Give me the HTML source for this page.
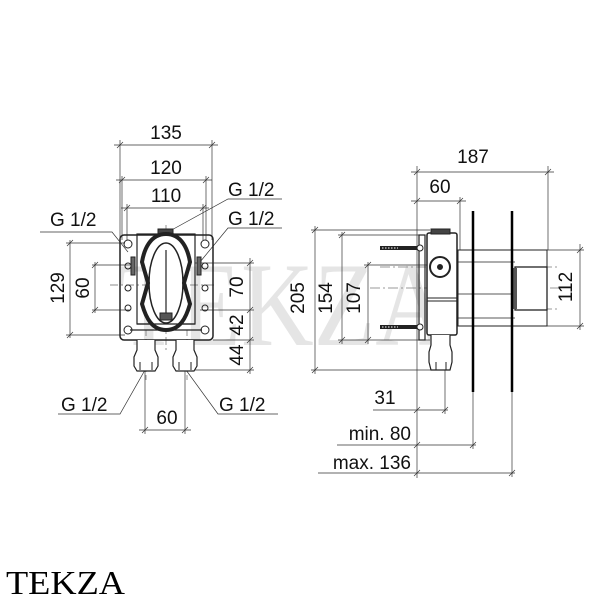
<!DOCTYPE html>
<html><head><meta charset="utf-8"><style>
html,body{margin:0;padding:0;background:#fff;}
svg{display:block;}
text{font-family:"Liberation Sans",sans-serif;fill:#111;}
</style></head><body>
<svg width="600" height="600" viewBox="0 0 600 600" xmlns="http://www.w3.org/2000/svg">
<!-- watermark -->
<text x="118" y="345" font-size="120" fill="#000" opacity="0.1" style="font-family:'Liberation Serif',serif" textLength="330" lengthAdjust="spacingAndGlyphs">TEKZA</text>

<g stroke="#333" stroke-width="0.7" fill="none">
<line x1="114" y1="145" x2="218" y2="145"/>
<line x1="116" y1="180" x2="212" y2="180"/>
<line x1="121" y1="208" x2="209" y2="208"/>
<line x1="120" y1="140" x2="120" y2="240"/>
<line x1="212" y1="140" x2="212" y2="240"/>
<line x1="122" y1="176" x2="122" y2="240"/>
<line x1="206" y1="176" x2="206" y2="240"/>
<line x1="127" y1="204" x2="127" y2="240"/>
<line x1="203" y1="204" x2="203" y2="240"/>
<path d="M117 148L123 142M209 148L215 142M119 183L125 177M203 183L209 177M124 211L130 205M200 211L206 205"/>
<path d="M40 232H112L128 252"/>
<path d="M282 199H228L168 232"/>
<path d="M282 228H228L200 262"/>
<path d="M58 414H120L145 370"/>
<path d="M278 414H218L186 370"/>
<line x1="145" y1="370" x2="145" y2="434"/>
<line x1="185" y1="370" x2="185" y2="434"/>
<line x1="139" y1="430" x2="191" y2="430"/>
<path d="M142 433L148 427M182 433L188 427"/>
<line x1="70" y1="240" x2="70" y2="338"/>
<line x1="95" y1="262" x2="95" y2="313"/>
<path d="M66 243H125M66 335H125M92 265H130M92 310H130"/>
<path d="M67 246L73 240M67 338L73 332M92 268L98 262M92 313L98 307"/>
<line x1="250" y1="258" x2="250" y2="374"/>
<path d="M195 263H254M200 310H254M213 340H254M195 370H254"/>
<path d="M247 266L253 260M247 313L253 307M247 343L253 337M247 373L253 367"/>
<path d="M166 225V350M110 285H215" stroke-dasharray="8 3 2 3" stroke="#666"/>
<path d="M146 330V380M187 330V380" stroke-dasharray="6 3" stroke="#666"/>
</g>

<g stroke="#222" fill="none">
<rect x="120" y="235" width="93" height="105" rx="4" stroke-width="1.5"/>
<rect x="137" y="234" width="58" height="90" stroke-width="1.2"/>
<rect x="158" y="229" width="15" height="6" fill="#444"/>
<rect x="131" y="257" width="4" height="18" fill="#666"/>
<rect x="197" y="257" width="4" height="18" fill="#666"/>
<path d="M166 234C150 234 144 250 142 262L148 283L142 304C146 318 152 330 166 330C180 330 186 318 190 304L184 283L190 262C188 250 182 234 166 234Z" stroke-width="4" fill="#fff"/>
<ellipse cx="166" cy="283" rx="17" ry="40" stroke-width="1.5"/>
<line x1="166" y1="250" x2="166" y2="318" stroke-width="1.2"/>
<rect x="160" y="313" width="12" height="7" fill="#555"/>
<path d="M137 324H195M130 330H202" stroke-width="1.2"/>
<g stroke-width="1">
<circle cx="128" cy="244" r="4"/><circle cx="205" cy="244" r="4"/>
<circle cx="128" cy="330" r="4"/><circle cx="205" cy="330" r="4"/>
<circle cx="128" cy="266" r="3"/><circle cx="128" cy="288" r="3"/><circle cx="128" cy="308" r="3"/>
<circle cx="205" cy="266" r="3"/><circle cx="205" cy="288" r="3"/><circle cx="205" cy="308" r="3"/>
</g>
<path d="M137 340V350L134 357V366L137 371H155L158 366V357L155 350V340" stroke-width="1.2" fill="#fff"/>
<path d="M176 340V350L173 357V366L176 371H194L197 366V357L194 350V340" stroke-width="1.2" fill="#fff"/>
<path d="M140 362V370M152 362V370M179 362V370M191 362V370" stroke-width="1"/>
</g>

<g font-size="19">
<text x="166" y="139" text-anchor="middle">135</text>
<text x="166" y="174" text-anchor="middle">120</text>
<text x="166" y="202" text-anchor="middle">110</text>
<text x="50" y="226">G 1/2</text>
<text x="228" y="196">G 1/2</text>
<text x="228" y="225">G 1/2</text>
<text x="61" y="411">G 1/2</text>
<text x="219" y="411">G 1/2</text>
<text x="167" y="424" text-anchor="middle">60</text>
<text transform="translate(64,288) rotate(-90)" text-anchor="middle">129</text>
<text transform="translate(89,288) rotate(-90)" text-anchor="middle">60</text>
<text transform="translate(243,287) rotate(-90)" text-anchor="middle">70</text>
<text transform="translate(243,325) rotate(-90)" text-anchor="middle">42</text>
<text transform="translate(243,355) rotate(-90)" text-anchor="middle">44</text>
</g>

<g stroke="#333" stroke-width="0.7" fill="none">
<line x1="411" y1="172" x2="554" y2="172"/>
<line x1="411" y1="201" x2="466" y2="201"/>
<line x1="417" y1="166" x2="417" y2="478"/>
<line x1="548" y1="166" x2="548" y2="250"/>
<line x1="460" y1="197" x2="460" y2="250"/>
<path d="M414 175L420 169M545 175L551 169M414 204L420 198M457 204L463 198"/>
<line x1="315" y1="226" x2="315" y2="374"/>
<line x1="342" y1="232" x2="342" y2="344"/>
<line x1="368" y1="262" x2="368" y2="344"/>
<path d="M311 230H430M338 235H420M364 265H440M338 340H430M311 370H432"/>
<path d="M312 233L318 227M312 373L318 367M339 238L345 232M339 343L345 337M365 268L371 262M365 343L371 337"/>
<line x1="580" y1="244" x2="580" y2="330"/>
<path d="M547 250H584M547 326H584M577 253L583 247M577 329L583 323"/>
<line x1="445" y1="335" x2="445" y2="414"/>
<path d="M373 410H448M337 445H476M318 473H515"/>
<path d="M414 413L420 407M442 413L448 407M414 448L420 442M470 448L476 442M414 476L420 470M509 476L515 470"/>
<line x1="473" y1="392" x2="473" y2="449"/>
<line x1="512" y1="392" x2="512" y2="477"/>
<path d="M380 267H560M370 288H560M470 309H560" stroke="#777" stroke-dasharray="10 3 2 3"/>
</g>

<g stroke="#222" fill="none">
<rect x="458" y="250" width="89" height="76" stroke-width="1" fill="#fff"/>
<path d="M458 262H515M458 318H515M458 294H515" stroke-width="0.8"/>
<rect x="515" y="267" width="32" height="43" fill="#fff" stroke-width="1.3"/>
<rect x="513" y="268" width="4" height="41" fill="#555" stroke="none"/>
<rect x="419" y="235" width="6" height="105" stroke-width="1.2"/>
<rect x="427" y="233" width="30" height="102" rx="2" stroke-width="1.5" fill="#fff"/>
<rect x="431" y="229" width="19" height="5" fill="#444"/>
<path d="M427 298H457M427 301H457" stroke-width="1"/>
<circle cx="440" cy="267" r="10" stroke-width="2" fill="#fff"/>
<circle cx="440" cy="267" r="2.5" fill="#222"/>
<path d="M380 248H418M380 327H418" stroke-width="4"/>
<path d="M382 248H398M382 327H398" stroke="#fff" stroke-width="1" stroke-dasharray="1.5 1.5"/>
<circle cx="420" cy="248" r="3" fill="#fff"/><circle cx="420" cy="327" r="3" fill="#fff"/>
<path d="M431 335V345L429 352V362L431 370H450L452 362V352L450 345V335" stroke-width="1.2" fill="#fff"/>
<path d="M436 362V370M446 362V370"/>
<line x1="473" y1="211" x2="473" y2="392" stroke="#000" stroke-width="2.5"/>
<line x1="512" y1="211" x2="512" y2="392" stroke="#000" stroke-width="2.5"/>
</g>

<g font-size="19">
<text x="473" y="163" text-anchor="middle">187</text>
<text x="440" y="193" text-anchor="middle">60</text>
<text transform="translate(304,298) rotate(-90)" text-anchor="middle">205</text>
<text transform="translate(332,298) rotate(-90)" text-anchor="middle">154</text>
<text transform="translate(360,298) rotate(-90)" text-anchor="middle">107</text>
<text transform="translate(572,287) rotate(-90)" text-anchor="middle">112</text>
<text x="385" y="404" text-anchor="middle">31</text>
<text x="411" y="440" text-anchor="end">min. 80</text>
<text x="411" y="469" text-anchor="end">max. 136</text>
</g>

<text x="6" y="594" font-size="34" style="font-family:'Liberation Serif',serif;fill:#000" textLength="119" lengthAdjust="spacingAndGlyphs">TEKZA</text>
</svg>
</body></html>
